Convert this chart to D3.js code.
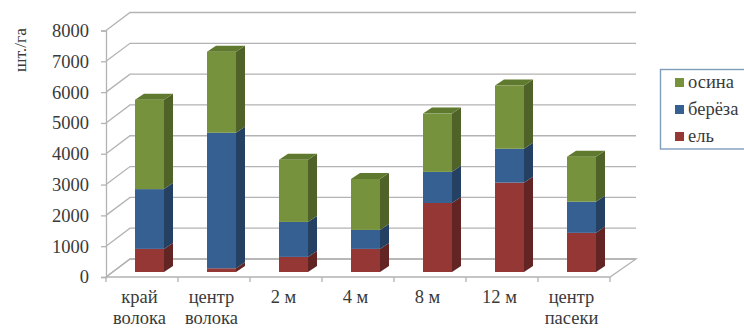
<!DOCTYPE html>
<html>
<head>
<meta charset="utf-8">
<script src="https://d3js.org/d3.v7.min.js"></script>
<style>
  html, body { margin: 0; padding: 0; background: #fff; }
  svg { display: block; }
  text { font-family: "Liberation Serif", serif; fill: #3a3a3a; }
</style>
</head>
<body>
<svg id="chart" width="744" height="329"></svg>
<script>
const categories = [["край", "волока"], ["центр", "волока"], ["2 м"], ["4 м"], ["8 м"], ["12 м"], ["центр", "пасеки"]];
const yTicks = [0, 1000, 2000, 3000, 4000, 5000, 6000, 7000, 8000];
const spruce = [750, 120, 490, 750, 2240, 2900, 1270];
const birch = [1940, 4400, 1135, 615, 1010, 1100, 1010];
const aspen = [2900, 2630, 2015, 1655, 1890, 2050, 1460];
const seriesNames = ["ель", "берёза", "осина"];

const palette = {
  "ель": { front: "#953735", side: "#632523", top: "#7d2e2c" },
  "берёза": { front: "#366092", side: "#244062", top: "#2b4f7a" },
  "осина": { front: "#76923c", side: "#4f6228", top: "#5f7a2e" }
};

const svg = d3.select("#chart");

// Oblique projection: floor depth of the box, and depth of the bar plane and bars
const wallDx = 24, wallDy = 18;
const barInsetDx = 6, barInsetDy = 5;
const barDx = 9, barDy = 6;
const barWidth = 29;

const x = d3.scaleBand().domain(d3.range(categories.length)).range([106, 610]);
const y = d3.scaleLinear().domain([0, 8000]).range([277, 30.5]);
const grid = "#b3b3b3";

// Floor
svg.append("polygon")
  .attr("points", [[106, y(0)], [x.range()[1], y(0)], [x.range()[1] + wallDx + 2, y(0) - wallDy], [106 + wallDx, y(0) - wallDy]].join(" "))
  .attr("fill", "none").attr("stroke", grid).attr("stroke-width", 1.3);

// Back wall gridlines and their slants along the side wall
yTicks.forEach(t => {
  svg.append("path")
    .attr("d", d3.line()([[106, y(t)], [106 + wallDx, y(t) - wallDy], [x.range()[1] + wallDx + 2, y(t) - wallDy]]))
    .attr("fill", "none").attr("stroke", grid).attr("stroke-width", 1.3);
});

// Value axis
svg.append("g")
  .attr("transform", "translate(106,0)")
  .call(d3.axisLeft(y).tickValues(yTicks).tickSize(5).tickPadding(12).tickFormat(d3.format("d")))
  .call(g => g.select(".domain").attr("stroke", grid).attr("stroke-width", 1.3))
  .call(g => g.selectAll(".tick line").attr("stroke", grid).attr("stroke-width", 1.3))
  .call(g => g.selectAll("text")
    .attr("font-size", 18.5).attr("fill", "#3a3a3a"));

// Category axis ticks and two-line labels
const tickPositions = d3.range(categories.length + 1).map(i => 106 + i * x.step());
svg.append("g").selectAll("line").data(tickPositions).join("line")
  .attr("x1", d => d).attr("x2", d => d)
  .attr("y1", y(0)).attr("y2", y(0) + 5)
  .attr("stroke", grid).attr("stroke-width", 1.3);

const catLabels = svg.append("g").selectAll("text").data(categories).join("text")
  .attr("text-anchor", "middle")
  .attr("font-size", 18.5);
catLabels.selectAll("tspan").data((d, i) => d.map(line => ({ line, i }))).join("tspan")
  .attr("x", d => x(d.i) + x.bandwidth() / 2 - 2.5)
  .attr("y", (d, j) => 303 + j * 21)
  .text(d => d.line);

// Stacked 3D columns
const rows = categories.map((c, i) => ({ "ель": spruce[i], "берёза": birch[i], "осина": aspen[i], index: i }));
const stacked = d3.stack().keys(seriesNames)(rows);
const plane = v => y(v) - barInsetDy;

const bars = svg.append("g");
stacked.forEach(layer => {
  const colors = palette[layer.key];
  const isTop = layer.key === seriesNames[seriesNames.length - 1];
  layer.forEach(seg => {
    const i = seg.data.index;
    const left = x(i) + barInsetDx + (x.bandwidth() - barWidth) / 2 + 1.5;
    const right = left + barWidth;
    const yLow = plane(seg[0]);
    const yHigh = plane(seg[1]);
    bars.append("polygon")
      .attr("points", [[right, yHigh], [right + barDx, yHigh - barDy], [right + barDx, yLow - barDy], [right, yLow]].join(" "))
      .attr("fill", colors.side);
    bars.append("rect")
      .attr("x", left).attr("y", yHigh)
      .attr("width", barWidth).attr("height", yLow - yHigh)
      .attr("fill", colors.front);
    if (isTop) {
      bars.append("polygon")
        .attr("points", [[left, yHigh], [left + barDx, yHigh - barDy], [right + barDx, yHigh - barDy], [right, yHigh]].join(" "))
        .attr("fill", colors.top);
    }
  });
});

// Units title
svg.append("text")
  .attr("transform", "translate(26,50) rotate(-90)")
  .attr("text-anchor", "middle")
  .attr("font-size", 17.5)
  .text("шт./га");

// Legend
const legend = svg.append("g");
legend.append("rect")
  .attr("x", 660.5).attr("y", 69.5).attr("width", 100).attr("height", 79.5)
  .attr("fill", "#fff").attr("stroke", "#7f9db9").attr("stroke-width", 1.4);
const legendRows = legend.selectAll("g").data([...seriesNames].reverse()).join("g")
  .attr("transform", (d, i) => `translate(675,${78 + i * 27})`);
legendRows.append("rect")
  .attr("width", 9).attr("height", 9)
  .attr("fill", d => palette[d].front);
legendRows.append("text")
  .attr("x", 13).attr("y", 10)
  .attr("font-size", 18.5)
  .text(d => d);
</script>
</body>
</html>
